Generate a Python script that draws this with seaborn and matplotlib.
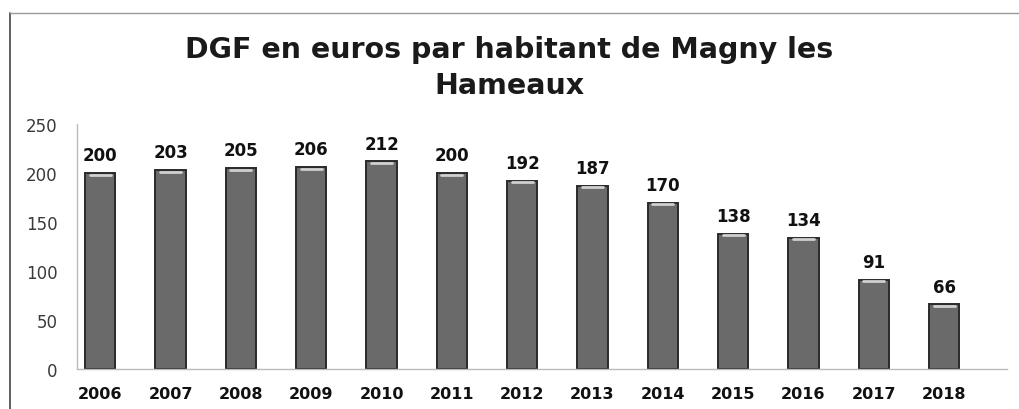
import pandas as pd
import seaborn as sns
import matplotlib.pyplot as plt
from matplotlib.lines import Line2D

years = ["2006", "2007", "2008", "2009", "2010", "2011", "2012",
         "2013", "2014", "2015", "2016", "2017", "2018"]
dgf = [200, 203, 205, 206, 212, 200, 192, 187, 170, 138, 134, 91, 66]

df = pd.DataFrame({"annee": years, "dgf": dgf})

sns.set_style("white")
plt.rcParams['font.family'] = ['DejaVu Sans']

fig = plt.figure(figsize=(10.19, 4.10), dpi=100)
ax = fig.add_axes([0.0756, 0.0976, 0.913, 0.597])

sns.barplot(data=df, x="annee", y="dgf", color="#6a6a6a", width=0.43,
            edgecolor="#2a2a2a", linewidth=1.4, saturation=1, ax=ax)

# petit reflet clair en haut des barres
for p in ax.patches:
    x0 = p.get_x()
    w = p.get_width()
    h = p.get_height()
    ax.plot([x0 + w * 0.15, x0 + w * 0.85], [h - 1.5, h - 1.5],
            color="#d0d0d0", lw=2, solid_capstyle="round")

for i, v in enumerate(dgf):
    ax.text(i, v + 9, str(v), ha="center", va="bottom",
            fontsize=12, fontweight="bold", color="#111111")

ax.set_ylim(0, 250)
ax.set_xlim(-0.33, 12.9)
ax.set_yticks(range(0, 251, 50))
ax.set_xlabel("")
ax.set_ylabel("")

for s in ["top", "right"]:
    ax.spines[s].set_visible(False)
for s in ["left", "bottom"]:
    ax.spines[s].set_color("#bbbbbb")
    ax.spines[s].set_linewidth(1)

ax.tick_params(axis="y", length=4, color="#bbbbbb", pad=10,
               labelsize=12, labelcolor="#3a3a3a")
ax.tick_params(axis="x", length=0, pad=12, labelsize=11.5, labelcolor="#111111")
for lbl in ax.get_xticklabels():
    lbl.set_fontweight("bold")

fig.text(0.5, 0.834, "DGF en euros par habitant de Magny les\nHameaux",
         ha="center", va="center", fontsize=20.5, fontweight="bold",
         color="#1a1a1a", linespacing=1.4)

# cadre du graphique
fig.add_artist(Line2D([10 / 1019, 10 / 1019], [0, 1 - 14 / 410],
                      transform=fig.transFigure, color="#444444", lw=1.2))
fig.add_artist(Line2D([10 / 1019, 1], [1 - 14 / 410, 1 - 14 / 410],
                      transform=fig.transFigure, color="#999999", lw=1))

plt.savefig("out.png", dpi=100)
plt.close()
